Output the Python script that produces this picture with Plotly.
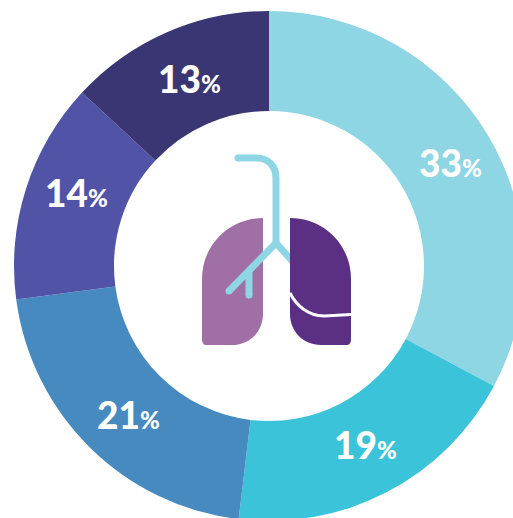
import plotly.graph_objects as go

categories = ["A", "B", "C", "D", "E"]
values = [32.8, 19.1, 21.0, 14.0, 13.1]
percent_labels = [33, 19, 21, 14, 13]
colors = ["#8ED6E4", "#3BC3D9", "#478ABF", "#5053A6", "#3A3674"]
label_positions = [(450, 163), (365, 444), (128, 414), (76, 192), (189, 79)]

W = H = 540
CX, CY, R = 269, 266, 255

def fx(x): return x / W
def fy(y): return 1 - y / H
def path(cmds):
    out = []
    for c in cmds:
        if isinstance(c, str):
            out.append(c)
        else:
            out.append(f"{fx(c[0]):.5f},{fy(c[1]):.5f}")
    return " ".join(out)

fig = go.Figure(go.Pie(
    labels=categories, values=values, textinfo="none",
    marker=dict(colors=colors, line=dict(width=0)),
    hole=155 / 255, sort=False, direction="clockwise", rotation=0,
    domain=dict(x=[fx(CX - R), fx(CX + R)], y=[fy(CY + R), fy(CY - R)]),
    showlegend=False, hoverinfo="skip",
))

annotations = [
    dict(text=f"<span style='font-size:37px'>{v}</span><span style='font-size:24px'>%</span>",
         x=fx(x), y=fy(y), xref="paper", yref="paper", showarrow=False,
         xanchor="center", yanchor="middle",
         font=dict(family="Lato, 'Open Sans', sans-serif", color="white", weight=900))
    for v, (x, y) in zip(percent_labels, label_positions)
]

BLUE, LL, RL = "#8ED6E4", "#A06FA5", "#5A2F84"
def stroke(cmds, color=BLUE, w=7):
    return dict(type="path", xref="paper", yref="paper", path=path(cmds),
                line=dict(color=color, width=w), layer="above")
def fill(cmds, color):
    return dict(type="path", xref="paper", yref="paper", path=path(cmds),
                fillcolor=color, line=dict(width=0), layer="above")
def dot(x, y, r=3.5):
    return dict(type="circle", xref="paper", yref="paper", x0=fx(x-r), x1=fx(x+r),
                y0=fy(y+r), y1=fy(y-r), fillcolor=BLUE, line=dict(width=0), layer="above")

shapes = [
    fill(["M", (263, 218), "C", (229, 218), (202, 245), (202, 279), "L", (202, 340),
          "C", (202, 343), (204, 345), (206, 345), "L", (232, 345),
          "C", (250, 345), (263, 331), (263, 314), "Z"], LL),
    stroke(["M", (238, 158), "L", (256, 158), "C", (268, 158), (276, 166), (276, 178), "L", (276, 243)]),
    stroke(["M", (276, 243), "L", (229, 291)]),
    stroke(["M", (276, 243), "L", (294, 263)]),
    stroke(["M", (249, 272), "L", (249, 295)]),
    dot(238, 158), dot(229, 291), dot(249, 295),
    fill(["M", (290, 218), "C", (324, 218), (351, 245), (351, 279), "L", (351, 340),
          "C", (351, 343), (349, 345), (347, 345), "L", (321, 345),
          "C", (303, 345), (290, 331), (290, 314), "Z"], RL),
    stroke(["M", (290, 293), "C", (296, 305), (308, 316), (324, 316), "L", (351, 314.5)], "white", 3),
]

fig.update_layout(width=W, height=H, margin=dict(l=0, r=0, t=0, b=0),
                  paper_bgcolor="white", shapes=shapes, annotations=annotations)

post = "document.documentElement.style.overflow='hidden';document.body.style.overflow='hidden';document.body.style.margin='0';"
fig.write_html("out.html", post_script=post, config=dict(displayModeBar=False))
